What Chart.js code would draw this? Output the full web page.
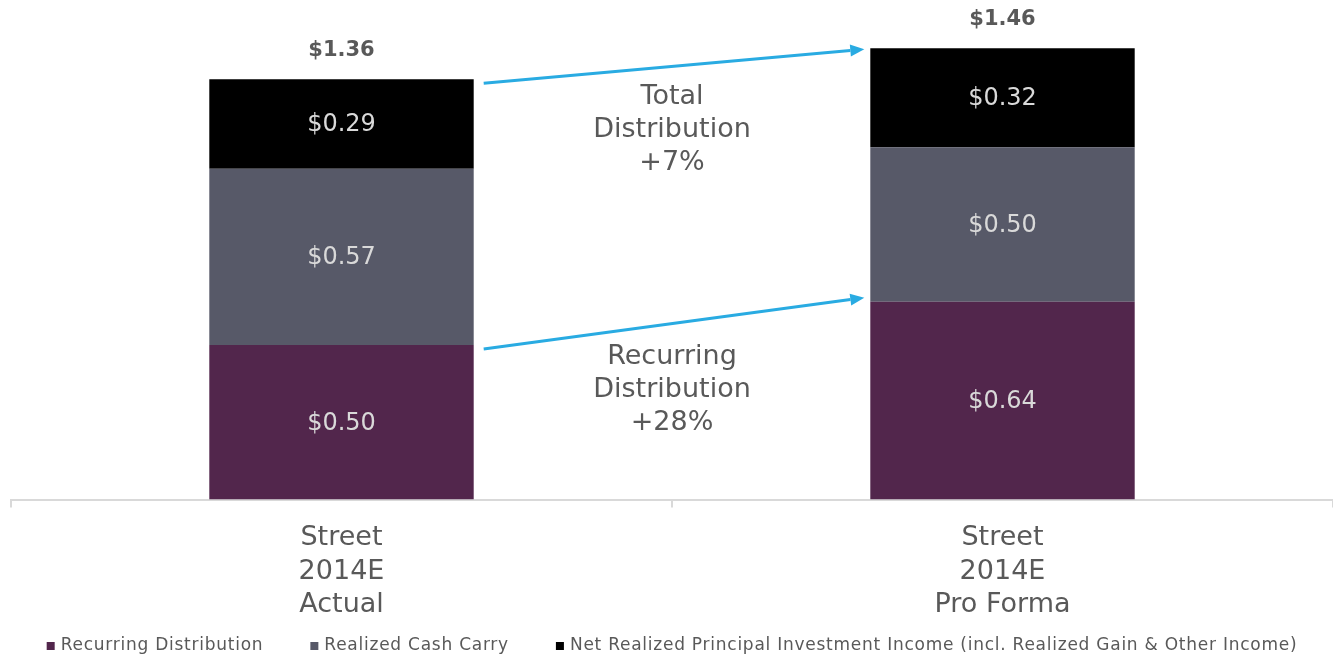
<!DOCTYPE html>
<html>
<head>
<meta charset="utf-8">
<script src="https://cdn.jsdelivr.net/npm/chart.js@4.4.1/dist/chart.umd.min.js"></script>
<style>
  html, body { margin: 0; padding: 0; background: #fff; }
</style>
</head>
<body>
<canvas id="chartDistribution" width="1333" height="660"></canvas>
<script>
// data
const categories = [["Street", "2014E", "Actual"], ["Street", "2014E", "Pro Forma"]];
const recurring = [0.50, 0.64];
const cashCarry = [0.57, 0.50];
const principalIncome = [0.29, 0.32];
const seriesNames = [
    "Recurring Distribution",
    "Realized Cash Carry",
    "Net Realized Principal Investment Income (incl. Realized Gain & Other Income)"
];
const seriesColors = ["#52264c", "#575968", "#000000"];

const FONT = "'DejaVu Sans', Verdana, sans-serif";
const TEXT_GREY = "#595959";
const ARROW_BLUE = "#29abe2";

// total per column
function totals() {
    return recurring.map((v, i) => v + cashCarry[i] + principalIncome[i]);
}

// draws an arrow from (x1,y1) to (x2,y2)
function drawArrow(ctx, x1, y1, x2, y2) {
    const ang = Math.atan2(y2 - y1, x2 - x1);
    const head = 14;
    const hx = x2 - head * Math.cos(ang), hy = y2 - head * Math.sin(ang);
    ctx.strokeStyle = ARROW_BLUE;
    ctx.fillStyle = ARROW_BLUE;
    ctx.lineWidth = 3;
    ctx.beginPath();
    ctx.moveTo(x1, y1);
    ctx.lineTo(hx, hy);
    ctx.stroke();
    ctx.beginPath();
    ctx.moveTo(x2, y2);
    ctx.lineTo(hx + 6 * Math.sin(ang), hy - 6 * Math.cos(ang));
    ctx.lineTo(hx - 6 * Math.sin(ang), hy + 6 * Math.cos(ang));
    ctx.closePath();
    ctx.fill();
}

// labels inside the bars, totals on top, arrows and growth notes
const labelsPlugin = {
    id: "labelsPlugin",
    afterDatasetsDraw(chart) {
        const ctx = chart.ctx;
        const yScale = chart.scales.y;
        const tot = totals();
        ctx.save();
        ctx.textAlign = "center";
        ctx.textBaseline = "middle";

        ctx.font = "24px " + FONT;
        ctx.fillStyle = "#d9d9d9";
        chart.data.datasets.forEach((ds, i) => {
            chart.getDatasetMeta(i).data.forEach((bar, j) => {
                ctx.fillText("$" + ds.data[j].toFixed(2), bar.x, (bar.y + bar.base) / 2 + 1);
            });
        });

        const topBars = chart.getDatasetMeta(2).data;
        ctx.font = "bold 21px " + FONT;
        ctx.fillStyle = TEXT_GREY;
        topBars.forEach((bar, j) => {
            ctx.fillText("$" + tot[j].toFixed(2), bar.x, yScale.getPixelForValue(tot[j]) - 29);
        });

        const b1 = topBars[0], b2 = topBars[1];
        const startX = b1.x + b1.width / 2 + 10;
        const endX = b2.x - b2.width / 2 - 6;
        drawArrow(ctx, startX, yScale.getPixelForValue(tot[0]) + 4, endX, yScale.getPixelForValue(tot[1]) + 1);
        drawArrow(ctx, startX, yScale.getPixelForValue(recurring[0]) + 4, endX, yScale.getPixelForValue(recurring[1]) - 4);

        const midX = (b1.x + b2.x) / 2;
        const totalGrowth = Math.round((tot[1] / tot[0] - 1) * 100);
        const recGrowth = Math.round((recurring[1] / recurring[0] - 1) * 100);
        ctx.font = "27px " + FONT;
        ctx.fillStyle = TEXT_GREY;
        const lineH = 33;
        let y0 = yScale.getPixelForValue(tot[0]) + 18;
        ["Total", "Distribution", "+" + totalGrowth + "%"].forEach((t, k) => ctx.fillText(t, midX, y0 + k * lineH));
        y0 = yScale.getPixelForValue(recurring[0]) + 12;
        ["Recurring", "Distribution", "+" + recGrowth + "%"].forEach((t, k) => ctx.fillText(t, midX, y0 + k * lineH));

        ctx.restore();
    },
    // legend row under the axis labels
    afterDraw(chart) {
        const ctx = chart.ctx;
        const area = chart.chartArea;
        ctx.save();
        ctx.font = "17px " + FONT;
        ctx.letterSpacing = "0.75px";
        ctx.textBaseline = "middle";
        ctx.textAlign = "left";
        const box = 8, textGap = 6, itemGap = 47;
        const widths = seriesNames.map(n => box + textGap + ctx.measureText(n).width);
        const total = widths.reduce((a, b) => a + b, 0) + itemGap * (seriesNames.length - 1);
        let x = (area.left + area.right) / 2 - total / 2;
        const y = 646;
        seriesNames.forEach((name, i) => {
            ctx.fillStyle = seriesColors[i];
            ctx.fillRect(x, y - box / 2, box, box);
            ctx.fillStyle = TEXT_GREY;
            ctx.fillText(name, x + box + textGap, y);
            x += widths[i] + itemGap;
        });
        ctx.restore();
    }
};

const ctx = document.getElementById("chartDistribution").getContext("2d");
const chart = new Chart(ctx, {
    type: "bar",
    data: {
        labels: categories,
        datasets: [
            { label: seriesNames[0], data: recurring, backgroundColor: seriesColors[0] },
            { label: seriesNames[1], data: cashCarry, backgroundColor: seriesColors[1] },
            { label: seriesNames[2], data: principalIncome, backgroundColor: seriesColors[2] }
        ]
    },
    options: {
        responsive: false,
        animation: false,
        devicePixelRatio: 1,
        barPercentage: 0.4,
        categoryPercentage: 1.0,
        layout: { padding: { top: 5, left: 11, right: 0, bottom: 24 } },
        plugins: {
            tooltip: { enabled: false },
            legend: { display: false }
        },
        scales: {
            x: {
                stacked: true,
                grid: { drawOnChartArea: false, color: "#d9d9d9", lineWidth: 2, tickLength: 8 },
                border: { color: "#d9d9d9", width: 2 },
                ticks: { color: TEXT_GREY, padding: 14, font: { family: FONT, size: 27, lineHeight: 1.24 } }
            },
            y: { stacked: true, display: false, min: 0, max: 1.6 }
        }
    },
    plugins: [labelsPlugin]
});
</script>
</body>
</html>
